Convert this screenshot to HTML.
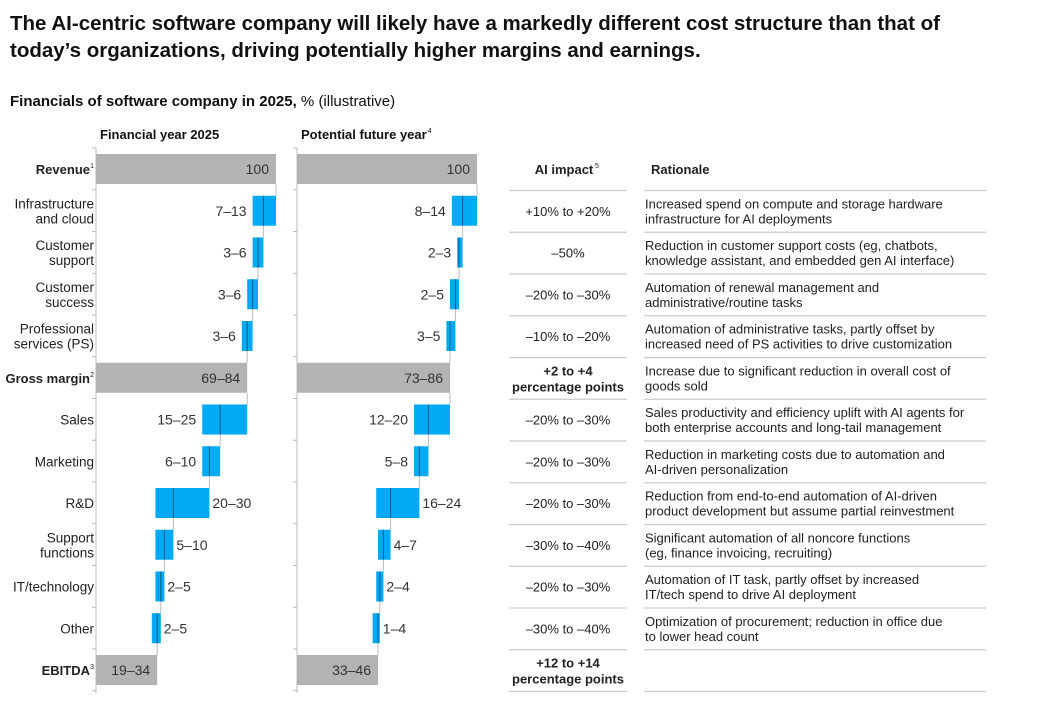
<!DOCTYPE html>
<html><head><meta charset="utf-8">
<style>
body{margin:0;background:#fff;width:1059px;height:712px;overflow:hidden;font-family:"Liberation Sans",sans-serif;color:#111}
#title{position:absolute;left:10px;top:10px;font-size:20.5px;font-weight:bold;line-height:27px;width:975px}
#sub{position:absolute;left:10px;top:93px;font-size:15px}
svg{position:absolute;left:0;top:0}
svg text{font-family:"Liberation Sans",sans-serif}
</style></head><body>
<div id="title">The AI-centric software company will likely have a markedly different cost structure than that of today’s organizations, driving potentially higher margins and earnings.</div>
<div id="sub"><b>Financials of software company in 2025,</b> % (illustrative)</div>
<svg id="chart" width="1059" height="712"></svg>
<script>
const categories=[["Revenue"],["Infrastructure","and cloud"],["Customer","support"],["Customer","success"],["Professional","services (PS)"],["Gross margin"],["Sales"],["Marketing"],["R&D"],["Support","functions"],["IT/technology"],["Other"],["EBITDA"]];
const sups=["1","","","","","2","","","","","","","3"];
const kinds=["total","cost","cost","cost","cost","total","cost","cost","cost","cost","cost","cost","total"];
const lows2025=[100,7,3,3,3,69,15,6,20,5,2,2,19];
const highs2025=[100,13,6,6,6,84,25,10,30,10,5,5,34];
const lowsFuture=[100,8,2,2,3,73,12,5,16,4,2,1,33];
const highsFuture=[100,14,3,5,5,86,20,8,24,7,4,4,46];
const aiImpact=[["AI impact"],["+10% to +20%"],["–50%"],["–20% to –30%"],["–10% to –20%"],["+2 to +4","percentage points"],["–20% to –30%"],["–20% to –30%"],["–20% to –30%"],["–30% to –40%"],["–20% to –30%"],["–30% to –40%"],["+12 to +14","percentage points"]];
const rationale=[["Rationale"],["Increased spend on compute and storage hardware","infrastructure for AI deployments"],["Reduction in customer support costs (eg, chatbots,","knowledge assistant, and embedded gen AI interface)"],["Automation of renewal management and","administrative/routine tasks"],["Automation of administrative tasks, partly offset by","increased need of PS activities to drive customization"],["Increase due to significant reduction in overall cost of","goods sold"],["Sales productivity and efficiency uplift with AI agents for","both enterprise accounts and long-tail management"],["Reduction in marketing costs due to automation and","AI-driven personalization"],["Reduction from end-to-end automation of AI-driven","product development but assume partial reinvestment"],["Significant automation of all noncore functions","(eg, finance invoicing, recruiting)"],["Automation of IT task, partly offset by increased","IT/tech spend to drive AI deployment"],["Optimization of procurement; reduction in office due","to lower head count"],[]];

const svg=document.getElementById('chart');
const NS="http://www.w3.org/2000/svg";
function mk(tag,attrs,name){const e=document.createElementNS(NS,tag);for(const k in attrs)e.setAttribute(k,attrs[k]);svg.appendChild(e);return e;}
const rowY=i=>169+i*41.75;
const BH=30;

categories.forEach((lines,i)=>{
  const bold=kinds[i]==="total";
  const t=mk('text',{x:94,y:rowY(i)+5-(lines.length-1)*7.5,'text-anchor':'end','font-size':bold?13:13.5,'font-weight':bold?'bold':'normal',fill:'#222'},'row-label');
  lines.forEach((l,j)=>{const s=document.createElementNS(NS,'tspan');s.setAttribute('x',sups[i]?90:94);s.setAttribute('dy',j?15:0);s.textContent=l;t.appendChild(s);});
  if(sups[i]){mk('text',{x:94,y:rowY(i)-1,'text-anchor':'end','font-size':7,fill:'#222'},'footnote-mark').textContent=sups[i];}
});

function panel(x0,lows,highs,title,sup,pname){
  const sc=v=>x0+v*1.8;
  const t=mk('text',{x:x0+4,y:139,'font-size':13,'font-weight':'bold',fill:'#111'},pname+'-title');t.textContent=title;
  if(sup)mk('text',{x:x0+4+t.getComputedTextLength()+1,y:133,'font-size':7,fill:'#111'},'footnote-mark').textContent=sup;
  mk('line',{x1:x0,y1:148,x2:x0,y2:693,stroke:'#bbb','stroke-width':1},pname+'-axis');
  for(let i=0;i<=13;i++){const y=rowY(i)-21;mk('line',{x1:x0-4,y1:y,x2:x0,y2:y,stroke:'#bbb'},'axis-tick');}
  let cum=100;let prevBottom=null;
  lows.forEach((lo,i)=>{
    const hi=highs[i];const y=rowY(i)-BH/2;
    if(kinds[i]==="total"){
      if(i===0)cum=100;
      const xr=sc(cum);
      if(prevBottom!==null)mk('line',{x1:xr,y1:prevBottom,x2:xr,y2:y,stroke:'#bbb'},'connector');
      mk('rect',{x:x0,y:y,width:xr-x0,height:BH,fill:'#b3b3b3'},pname+'-total-bar');
      const label=i===0?"100":lo+"–"+hi;
      mk('text',{x:xr-7,y:rowY(i)+5,'text-anchor':'end','font-size':14,fill:'#333'},'value-label').textContent=label;
      prevBottom=y+BH;
    } else {
      const xr=sc(cum),xl=sc(cum-hi),xm=sc(cum-lo);
      mk('line',{x1:xr,y1:prevBottom,x2:xr,y2:y,stroke:'#bbb'},'connector');
      mk('rect',{x:xl,y:y,width:xr-xl,height:BH,fill:'#00a9f4'},pname+'-cost-bar');
      mk('line',{x1:xm,y1:y,x2:xm,y2:y+BH,stroke:'#0b5a8a','stroke-width':1},'low-marker');
      const label=lo+"–"+hi;
      const left=i>=8;
      mk('text',{x:left?xr+3:xl-6,y:rowY(i)+5,'text-anchor':left?'start':'end','font-size':14,fill:'#333'},'value-label').textContent=label;
      cum=cum-lo;prevBottom=y+BH;
    }
  });
}
panel(96,lows2025,highs2025,"Financial year 2025","","panel-2025");
panel(297,lowsFuture,highsFuture,"Potential future year","4","panel-future");

aiImpact.forEach((lines,i)=>{
  const bold=i===0||kinds[i]==="total";
  const t=mk('text',{x:568,y:rowY(i)+5-(lines.length-1)*7.5,'text-anchor':'middle','font-size':13,'font-weight':bold?'bold':'normal',fill:'#222'},'ai-impact-cell');
  lines.forEach((l,j)=>{const s=document.createElementNS(NS,'tspan');s.setAttribute('x',i===0?564:568);s.setAttribute('dy',j?16:0);s.textContent=l;t.appendChild(s);});
  if(i===0)mk('text',{x:595,y:rowY(0)-1,'font-size':7,fill:'#222'},'footnote-mark').textContent="5";
  const r=rationale[i]||[];
  const t2=mk('text',{x:645,y:rowY(i)+5-(r.length-1)*7.5,'font-size':13,'font-weight':i===0?'bold':'normal',fill:'#222'},'rationale-cell');
  r.forEach((l,j)=>{const s=document.createElementNS(NS,'tspan');s.setAttribute('x',i===0?651:645);s.setAttribute('dy',j?15:0);s.textContent=l;t2.appendChild(s);});
  const ly=rowY(i)+21.5;
  mk('line',{x1:509,y1:ly,x2:627,y2:ly,stroke:'#ccc','stroke-width':1.3},'table-rule');
  mk('line',{x1:644,y1:ly,x2:986,y2:ly,stroke:'#ccc','stroke-width':1.3},'table-rule');
});
</script>
</body></html>
